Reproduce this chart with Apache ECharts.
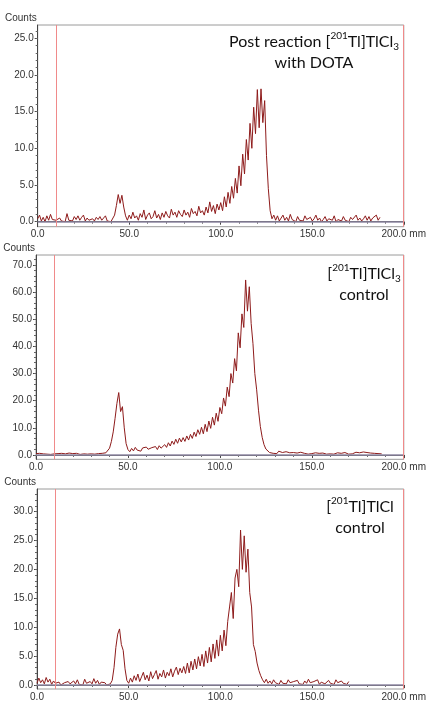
<!DOCTYPE html>
<html>
<head>
<meta charset="utf-8">
<script src="https://cdn.jsdelivr.net/npm/echarts@6/dist/echarts.min.js"></script>
<style>
  html, body { margin: 0; padding: 0; background: #fff; }
  #chart { width: 429px; height: 702px; }
</style>
</head>
<body>
<div id="chart"></div>
<script>
// Radio-TLC scans: counts along the plate, one reading per millimetre from 0 mm.
const START_MM = 0;
const STEP_MM = 1;

// Post reaction [201Tl]TlCl3 with DOTA (0 … 187 mm)
const dotaCounts = [
  0.4, 0.9, 0.1, 0.6, 0.0, 0.8, 0.2, 1.0, 0.3, 0.1,
  0.2, 0.0, 0.5, 0.1, 0.3, 0.0, 1.1, 0.2, 0.4, 0.1,
  0.7, 0.3, 0.8, 0.2, 0.6, 0.9, 0.1, 0.5, 0.2, 0.0,
  0.4, 0.1, 0.6, 0.3, 0.7, 0.2, 0.5, 0.8, 0.1, 0.3,
  0.0, 0.1, 0.9, 2.2, 3.7, 2.5, 3.6, 2.0, 0.8, 0.2,
  0.9, 0.4, 1.3, 0.5, 0.8, 0.2, 1.1, 0.6, 1.6, 0.3,
  0.9, 1.2, 0.4, 0.7, 1.5, 0.5, 1.0, 0.3, 1.2, 0.6,
  1.4, 0.8, 0.5, 1.7, 0.9, 1.3, 0.6, 1.5, 1.0, 0.7,
  1.6, 0.9, 1.3, 0.6, 1.8, 1.1, 1.4, 0.8, 2.1, 1.2,
  1.5, 0.9, 2.0, 1.2, 2.7, 1.4, 2.2, 1.1, 2.4, 1.6,
  2.6, 1.5, 3.4, 2.0, 4.0, 2.5, 4.8, 3.2, 5.9, 3.9,
  7.6, 4.9, 9.2, 6.5, 11.2, 8.4, 13.4, 10.0, 15.6, 12.0,
  18.0, 12.8, 18.1, 13.5, 16.5, 9.0, 4.5, 1.5, 0.4, 0.9,
  0.2, 0.8, 0.1, 0.5, 0.9, 0.2, 0.6, 0.1, 1.0, 0.3,
  0.5, 0.0, 0.7, 0.2, 0.4, 0.1, 0.8, 0.3, 0.2, 0.6,
  0.1, 0.4, 0.9, 0.2, 0.5, 0.0, 0.3, 0.7, 0.1, 0.4,
  0.6, 0.2, 0.8, 0.0, 0.3, 0.5, 0.1, 0.7, 0.2, 0.4,
  0.0, 0.6, 0.3, 0.1, 0.9, 0.2, 0.5, 0.1, 0.4, 0.8,
  0.2, 0.7, 0.1, 0.5, 0.3, 0.9, 0.2, 0.6
];

// [201Tl]TlCl3 control (0 … 188 mm)
const tlcl3Counts = [
  0.5, 0.3, 0.6, 0.2, 0.4, 0.7, 0.3, 0.5, 0.2, 0.6,
  0.4, 0.2, 0.5, 0.3, 0.6, 0.2, 0.4, 0.3, 0.7, 0.2,
  0.5, 0.3, 0.6, 0.4, 0.2, 0.7, 0.4, 0.5, 0.3, 0.8,
  0.4, 0.6, 0.3, 0.7, 0.5, 0.9, 0.6, 1.0, 0.8, 1.3,
  2.5, 5.0, 8.5, 13.5, 19.0, 23.0, 16.0, 17.8, 10.0, 4.2,
  2.0, 1.2, 2.4, 1.5, 2.8, 1.8, 2.2, 1.4, 2.6, 1.9,
  2.9, 2.1, 1.6, 2.7, 2.3, 3.1, 2.0, 3.4, 2.5, 3.2,
  3.8, 2.8, 4.5, 3.3, 5.1, 3.9, 5.8, 4.3, 6.2, 4.8,
  6.4, 5.0, 7.0, 5.5, 7.6, 6.1, 8.4, 6.8, 9.3, 7.6,
  10.2, 7.8, 11.3, 8.6, 12.5, 9.8, 13.9, 11.0, 15.4, 12.4,
  17.5, 15.2, 21.0, 18.0, 25.0, 21.5, 30.0, 26.5, 35.5, 31.0,
  45.0, 39.5, 52.0, 47.0, 64.5, 53.0, 62.0, 48.5, 41.0, 30.0,
  24.0, 16.5, 10.5, 6.5, 3.8, 2.2, 1.5, 0.9, 1.3, 0.6,
  1.1, 0.5, 1.4, 0.7, 0.9, 0.4, 1.2, 0.6, 0.8, 0.3,
  0.9, 0.5, 0.7, 0.3, 1.0, 0.4, 0.6, 0.8, 0.3, 0.7,
  0.5, 0.3, 0.8, 0.4, 0.6, 0.2, 0.7, 0.5, 0.3, 0.6,
  0.4, 0.7, 0.3, 0.5, 0.8, 0.4, 0.6, 0.3, 0.9, 0.5,
  0.3, 0.7, 0.4, 0.6, 1.0, 0.5, 0.8, 0.4, 1.1, 0.6,
  0.9, 0.4, 0.7, 0.3, 0.6, 0.2, 0.5, 0.3, 0.4
];

// [201Tl]TlCl control (0 … 170 mm)
const tlclCounts = [
  0.3, 1.2, 0.4, 0.9, 0.2, 1.3, 0.5, 1.0, 0.1, 0.7,
  0.3, 0.1, 0.5, 0.0, 0.2, 0.4, 0.1, 0.6, 0.2, 0.0,
  0.7, 0.2, 0.9, 0.1, 0.4, 0.0, 1.0, 0.3, 0.1, 0.6,
  0.2, 1.1, 0.3, 0.8, 0.1, 0.5, 0.2, 0.4, 0.0, 0.3,
  0.2, 0.8, 3.0, 6.5, 8.8, 9.7, 7.0, 6.0, 2.8, 0.8,
  0.3, 1.2, 0.5, 1.6, 0.8, 1.9, 0.6, 1.4, 2.2, 0.9,
  1.7, 0.7, 2.3, 1.1, 1.8, 2.5, 1.0, 2.0, 1.4, 2.6,
  1.2, 2.2, 1.6, 2.8, 1.4, 2.4, 3.1, 1.8, 2.9, 2.1,
  3.2, 2.0, 3.8, 2.1, 4.1, 2.6, 4.5, 2.8, 4.9, 3.3,
  5.3, 3.2, 5.9, 3.8, 6.5, 4.0, 7.1, 4.6, 7.8, 5.0,
  8.6, 5.9, 9.5, 6.8, 11.0, 13.5, 16.0, 11.5, 18.5, 20.0,
  17.0, 26.8, 20.0, 25.8, 19.5, 23.5, 16.0, 13.5, 7.0, 5.8,
  3.8, 2.5, 1.6, 0.9, 0.4, 1.0, 0.3, 0.7, 0.2, 0.9,
  0.4, 0.6, 0.1, 0.8, 0.3, 0.5, 0.2, 0.9, 0.4, 0.1,
  0.6, 0.3, 0.8, 0.2, 0.5, 0.1, 0.7, 0.3, 1.0, 0.4,
  0.2, 0.6, 0.3, 0.9, 0.1, 0.5, 0.7, 0.2, 0.4, 0.8,
  0.3, 0.6, 0.1, 0.9, 0.4, 0.2, 0.7, 0.3, 0.5, 0.1, 0.6
];

// Origin and solvent-front marks (mm)
const originMm = 10;
const frontMm = 199.6;

// Count-axis tick labels and minor tick positions per scan
const yMajorTicks = [
  [0, 5, 10, 15, 20, 25],
  [0, 10, 20, 30, 40, 50, 60, 70],
  [0, 5, 10, 15, 20, 25, 30]
];
const yMinorTicks = [
  [0,1,2,3,4,5,6,7,8,9,10,11,12,13,14,15,16,17,18,19,20,21,22,23,24,25,26],
  [0,2,4,6,8,10,12,14,16,18,20,22,24,26,28,30,32,34,36,38,40,42,44,46,48,50,52,54,56,58,60,62,64,66,68,70,72],
  [0,1,2,3,4,5,6,7,8,9,10,11,12,13,14,15,16,17,18,19,20,21,22,23,24,25,26,27,28,29,30,31,32,33]
];
const yRanges = [[-0.68, 26.8], [-1.6, 73.7], [-0.69, 33.9]];

const scans = [dotaCounts, tlcl3Counts, tlclCounts];

const grids = [
  { left: 37.7, right: 15, top: 25, height: 201.7 },
  { left: 36, right: 12.5, top: 255, height: 204.3 },
  { left: 37, right: 16.7, top: 489, height: 201 }
];

const titleDefs = [
  { text: 'Post reaction [{sup|201}Tl]TlCl{sub|3}\nwith DOTA', left: 309, top: 26 },
  { text: '[{sup|201}Tl]TlCl{sub|3}\ncontrol', left: 359, top: 258 },
  { text: '[{sup|201}Tl]TlCl\ncontrol', left: 355, top: 491 }
];

const labelFont = { fontFamily: 'Liberation Sans, Arial, sans-serif', fontSize: 10, color: '#333' };
const titleFont = 'Lato, Open Sans, sans-serif';
const traceColor = '#8e1b1b';

const xAxes = [], yAxes = [], series = [], titles = [];

scans.forEach((counts, i) => {
  xAxes.push({
    type: 'value', gridIndex: i, min: 0, max: 200, interval: 50,
    axisLine: { show: true, lineStyle: { color: '#444', width: 1 } },
    axisTick: { show: true, length: 3, lineStyle: { color: '#444' } },
    minorTick: { show: true, splitNumber: 5, length: 2, lineStyle: { color: '#666' } },
    splitLine: { show: false },
    axisLabel: Object.assign({}, labelFont, {
      margin: 3,
      formatter: v => v === 200 ? '200.0 mm' : v.toFixed(1)
    })
  });
  // main count axis: line, labels, long ticks
  yAxes.push({
    type: 'value', gridIndex: i, min: yRanges[i][0], max: yRanges[i][1],
    position: 'left',
    name: 'Counts', nameLocation: 'end', nameGap: 7,
    nameTextStyle: Object.assign({}, labelFont, { align: 'right', verticalAlign: 'middle', padding: [0, 1, 0, 0] }),
    axisLine: { show: true, lineStyle: { color: '#444', width: 1 } },
    axisTick: { show: true, length: 3, customValues: yMajorTicks[i], lineStyle: { color: '#444' } },
    axisLabel: Object.assign({}, labelFont, {
      margin: 4, customValues: yMajorTicks[i],
      formatter: v => v.toFixed(1)
    }),
    splitLine: { show: false }
  });
  // companion axis carrying the short minor ticks
  yAxes.push({
    type: 'value', gridIndex: i, min: yRanges[i][0], max: yRanges[i][1],
    position: 'left', offset: 0,
    axisLine: { show: false },
    axisTick: { show: true, length: 2, customValues: yMinorTicks[i], lineStyle: { color: '#666' } },
    axisLabel: { show: false },
    splitLine: { show: false }
  });

  series.push({
    type: 'line',
    xAxisIndex: i, yAxisIndex: i * 2,
    data: counts.map((c, k) => [START_MM + k * STEP_MM, c]),
    showSymbol: false,
    lineStyle: { color: traceColor, width: 1 },
    itemStyle: { color: traceColor },
    animation: false,
    z: 3,
    markLine: {
      silent: true, symbol: 'none', animation: false,
      label: { show: false },
      data: [
        { yAxis: 0, lineStyle: { color: '#8f88a3', width: 1.6, type: 'solid' } },
        { xAxis: originMm, lineStyle: { color: '#f08a8a', width: 1, type: 'solid' } },
        { xAxis: frontMm, lineStyle: { color: '#f08a8a', width: 1, type: 'solid' } }
      ]
    }
  });

  titles.push({
    text: titleDefs[i].text,
    left: titleDefs[i].left, top: titleDefs[i].top,
    textAlign: 'center',
    textStyle: {
      fontFamily: titleFont, fontSize: 16, fontWeight: 'normal',
      color: '#111', lineHeight: 21,
      rich: {
        sup: { fontFamily: titleFont, fontSize: 10, color: '#111', verticalAlign: 'top', lineHeight: 16 },
        sub: { fontFamily: titleFont, fontSize: 10, color: '#111', verticalAlign: 'bottom', lineHeight: 10 }
      }
    }
  });
});

const chart = echarts.init(document.getElementById('chart'), null, { renderer: 'canvas' });
chart.setOption({
  animation: false,
  backgroundColor: '#fff',
  title: titles,
  grid: grids.map(g => Object.assign({ show: true, borderColor: '#9a9a9a', borderWidth: 1, backgroundColor: 'transparent' }, g)),
  xAxis: xAxes,
  yAxis: yAxes,
  series: series
});
</script>
</body>
</html>
